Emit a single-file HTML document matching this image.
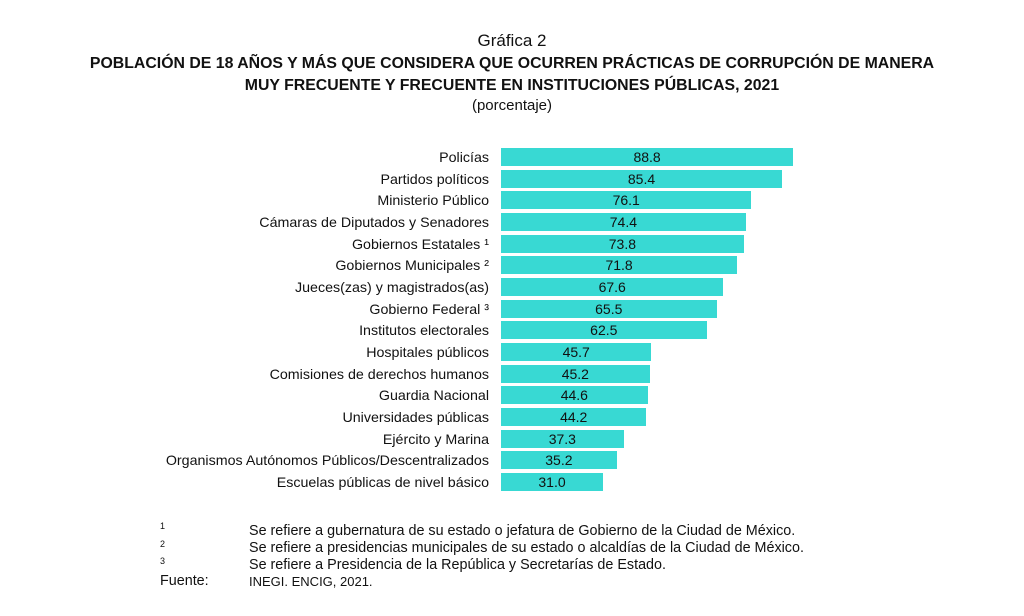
<!DOCTYPE html>
<html><head><meta charset="utf-8"><style>
body{margin:0;width:1024px;height:616px;background:#fff;font-family:"Liberation Sans",Arial,sans-serif;color:#111;position:relative;overflow:hidden}
.t{position:absolute;left:0;width:1024px;text-align:center}
.l{position:absolute;right:535px;font-size:14.25px;white-space:nowrap;line-height:18px}
.b{position:absolute;left:501px;height:18px;background:#38d9d3;font-size:14px;line-height:19px;text-align:center}
.f{position:absolute;font-size:14.35px;white-space:nowrap}
</style></head><body>
<div class="t" style="top:31px;font-size:17px">Gráfica 2</div>
<div class="t" style="top:55px;font-size:15.85px;font-weight:bold">POBLACIÓN DE 18 AÑOS Y MÁS QUE CONSIDERA QUE OCURREN PRÁCTICAS DE CORRUPCIÓN DE MANERA</div>
<div class="t" style="top:77px;font-size:15.85px;font-weight:bold">MUY FRECUENTE Y FRECUENTE EN INSTITUCIONES PÚBLICAS, 2021</div>
<div class="t" style="top:97px;font-size:15px">(porcentaje)</div>
<div id="c"></div>
<div class="f" style="left:160px;top:521px;font-size:9px">1</div>
<div class="f" style="left:160px;top:539px;font-size:9px">2</div>
<div class="f" style="left:160px;top:556px;font-size:9px">3</div>
<div class="f" style="left:249px;top:523px">Se refiere a gubernatura de su estado o jefatura de Gobierno de la Ciudad de México.</div>
<div class="f" style="left:249px;top:540px">Se refiere a presidencias municipales de su estado o alcaldías de la Ciudad de México.</div>
<div class="f" style="left:249px;top:557px">Se refiere a Presidencia de la República y Secretarías de Estado.</div>
<div class="f" style="left:160px;top:573px">Fuente:</div>
<div class="f" style="left:249px;top:574px;font-size:13px">INEGI. ENCIG, 2021.</div>
<script>
var d=[["Policías",88.8],["Partidos políticos",85.4],["Ministerio Público",76.1],["Cámaras de Diputados y Senadores",74.4],["Gobiernos Estatales ¹",73.8],["Gobiernos Municipales ²",71.8],["Jueces(zas) y magistrados(as)",67.6],["Gobierno Federal ³",65.5],["Institutos electorales",62.5],["Hospitales públicos",45.7],["Comisiones de derechos humanos",45.2],["Guardia Nacional",44.6],["Universidades públicas",44.2],["Ejército y Marina",37.3],["Organismos Autónomos Públicos/Descentralizados",35.2],["Escuelas públicas de nivel básico",31.0]];
var h="";d.forEach(function(r,i){var y=148+i*21.67;h+='<div class="l" style="top:'+(y+1).toFixed(1)+'px">'+r[0]+'</div><div class="b" style="top:'+y.toFixed(1)+'px;width:'+(r[1]*3.29).toFixed(1)+'px">'+r[1].toFixed(1)+'</div>';});
document.getElementById("c").innerHTML=h;
</script>
</body></html>
